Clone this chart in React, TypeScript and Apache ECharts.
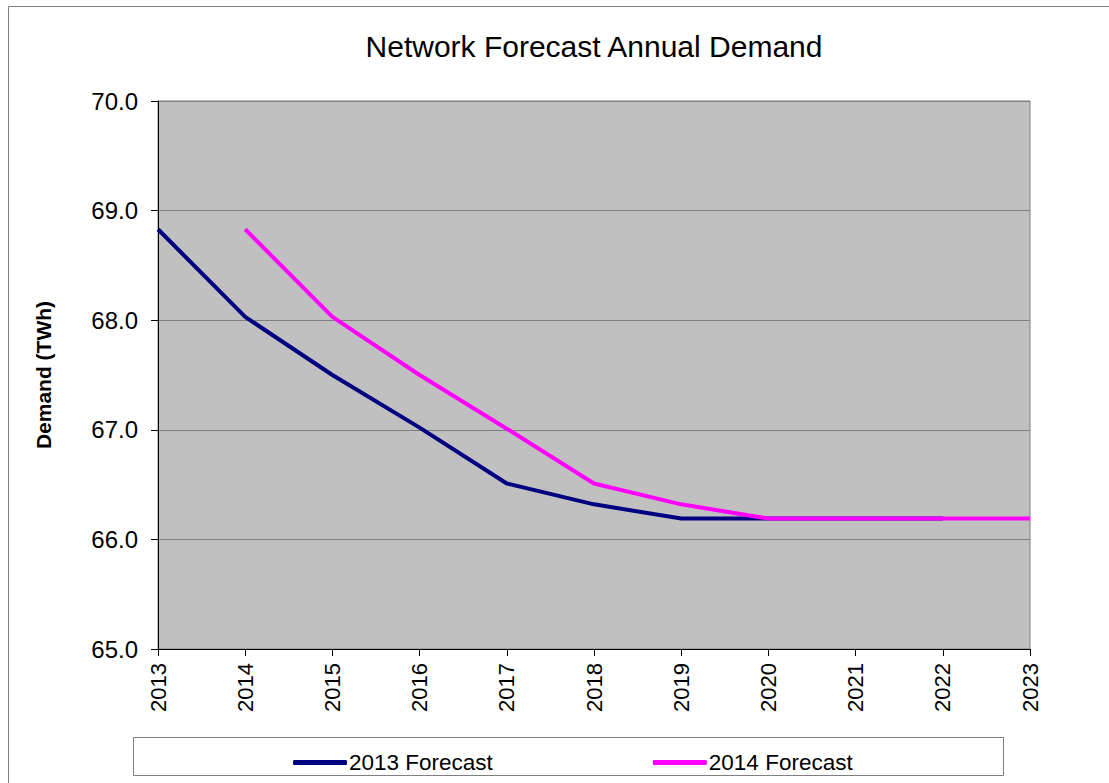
import React, { useEffect, useRef } from "react";
import * as echarts from "echarts";

const years = ["2013", "2014", "2015", "2016", "2017", "2018", "2019", "2020", "2021", "2022", "2023"];
const forecast2013 = [68.83, 68.03, 67.5, 67.02, 66.51, 66.32, 66.19, 66.19, 66.19, 66.19, null];
const forecast2014 = [null, 68.83, 68.03, 67.5, 67.01, 66.51, 66.32, 66.19, 66.19, 66.19, 66.19];
const seriesNames = ["2013 Forecast", "2014 Forecast"];
const titleText = "Network Forecast Annual Demand";
const yAxisName = "Demand (TWh)";

const FONT = "Liberation Sans, Arial, sans-serif";

export default function App() {
  const ref = useRef<HTMLDivElement>(null);
  useEffect(() => {
    if (!ref.current) return;
    const chart = echarts.init(ref.current, undefined, { renderer: "svg" });
    chart.setOption({
      animation: false,
      backgroundColor: "#ffffff",
      textStyle: { fontFamily: FONT },
      graphic: [
        {
          type: "rect",
          shape: { x: 8.5, y: 6.5, width: 1200, height: 900 },
          style: { fill: "none", stroke: "#808080", lineWidth: 1 },
          silent: true,
          z: -10,
        },
        {
          type: "text",
          x: 594,
          y: 46,
          style: {
            text: titleText,
            fontFamily: FONT,
            fontSize: 30,
            fill: "#000",
            textAlign: "center",
            textVerticalAlign: "middle",
          },
        },
        {
          type: "rect",
          shape: { x: 133.5, y: 737.5, width: 870, height: 38 },
          style: { fill: "#fff", stroke: "#808080", lineWidth: 1 },
          z: -1,
        },
      ],
      legend: {
        left: 288,
        top: 746,
        itemWidth: 54,
        itemHeight: 5,
        itemGap: 160,
        icon: "roundRect",
        textStyle: { fontFamily: FONT, fontSize: 22.5, color: "#000", padding: [0, 0, 0, -3] },
        data: seriesNames,
      },
      grid: {
        left: 158,
        right: 79,
        top: 101,
        bottom: 134,
        show: true,
        backgroundColor: "#C0C0C0",
        borderColor: "#808080",
        borderWidth: 1,
      },
      xAxis: {
        type: "category",
        data: years,
        boundaryGap: false,
        axisLine: { lineStyle: { color: "#000", width: 1 } },
        axisTick: { show: true, length: 7, lineStyle: { color: "#000" } },
        axisLabel: {
          rotate: 90,
          margin: 14,
          fontSize: 22,
          fontFamily: FONT,
          color: "#000",
          interval: 0,
        },
        splitLine: { show: false },
      },
      yAxis: {
        type: "value",
        min: 65,
        max: 70,
        interval: 1,
        name: yAxisName,
        nameLocation: "middle",
        nameGap: 104,
        nameRotate: 90,
        nameTextStyle: { fontFamily: FONT, fontSize: 21, fontWeight: "bold", color: "#000" },
        axisLine: { show: true, lineStyle: { color: "#000", width: 1 } },
        axisTick: { show: true, length: 7, lineStyle: { color: "#000" } },
        axisLabel: {
          margin: 20,
          fontSize: 24,
          fontFamily: FONT,
          color: "#000",
          formatter: (v: number) => v.toFixed(1),
        },
        splitLine: { show: true, lineStyle: { color: "#808080", width: 1 } },
      },
      series: [
        {
          name: seriesNames[0],
          type: "line",
          data: forecast2013,
          showSymbol: false,
          symbol: "none",
          lineStyle: { color: "#000080", width: 4 },
          itemStyle: { color: "#000080" },
        },
        {
          name: seriesNames[1],
          type: "line",
          data: forecast2014,
          showSymbol: false,
          symbol: "none",
          lineStyle: { color: "#FF00FF", width: 4 },
          itemStyle: { color: "#FF00FF" },
        },
      ],
    });
    return () => chart.dispose();
  }, []);
  return (
    <div
      ref={ref}
      style={{ position: "fixed", left: 0, top: 0, width: 1109, height: 783 }}
    />
  );
}
